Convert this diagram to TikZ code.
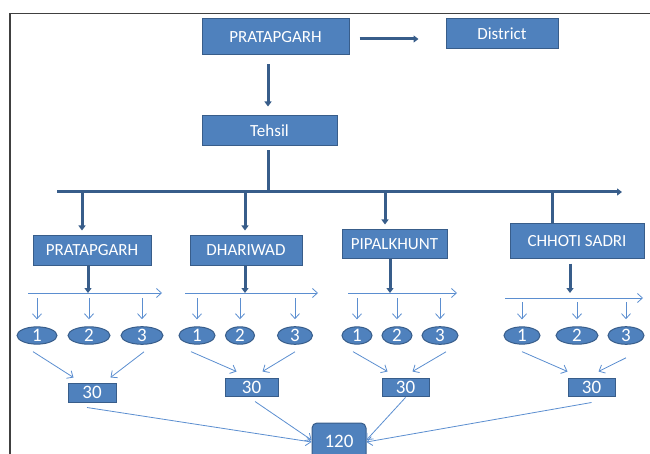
\documentclass[tikz,border=0pt]{standalone}
\usepackage{fontspec}
\setmainfont{Carlito}
\usetikzlibrary{shapes.geometric,arrows.meta}
\definecolor{boxblue}{HTML}{4F81BD}
\definecolor{boxedge}{HTML}{385D8A}
\definecolor{thinblue}{HTML}{5B8ED0}
\definecolor{framegray}{HTML}{404040}
\tikzset{
  bx/.style={rectangle, fill=boxblue, draw=boxedge, line width=1pt, text=white,
    font=\fontsize{17}{20}\selectfont, inner sep=0pt},
  numbx/.style={bx, font=\fontsize{19}{20}\selectfont},
  ov/.style={ellipse, fill=boxblue, draw=boxedge, line width=1pt, text=white,
    font=\fontsize{19}{20}\selectfont, inner sep=0pt, minimum height=16pt},
  thk/.style={draw=boxedge, line width=3pt},
  thka/.style={thk, -{Triangle[length=5pt,width=7pt]}},
  thn/.style={draw=thinblue, line width=0.8pt, -{Straight Barb[length=5pt,width=9pt]}}
}
\begin{document}
\begin{tikzpicture}[x=1pt,y=-1pt]
\useasboundingbox (0,0) rectangle (650,454);
\draw[framegray, line width=1.3pt] (10,460) -- (10,13.5) -- (655,13.5);

% top level
\node[bx, minimum width=147pt, minimum height=36pt] (top) at (275.5,37) {PRATAPGARH};
\node[bx, minimum width=112pt, minimum height=30pt] (district) at (502,34) {District};
\node[bx, minimum width=135pt, minimum height=30pt] (tehsil) at (269.5,131) {Tehsil};

\draw[thka, shorten <=10pt, shorten >=27pt] ([yshift=-2pt]top.east) -- ([yshift=-5pt]district.west);
\coordinate (c268) at (268,0);
\draw[thka, shorten <=9pt, shorten >=9pt] (top.south -| c268) -- (tehsil.north -| c268);

% bus
\coordinate (busL) at (57,192);
\coordinate (busR) at (622,192);
\draw[thk, shorten <=4pt] (tehsil.south -| c268) -- (c268 |- busL);
\draw[thka] (busL) -- (busR);

% tehsil boxes
\node[bx, minimum width=118pt, minimum height=29pt] (p1) at (92,250.5) {PRATAPGARH};
\node[bx, minimum width=112pt, minimum height=29pt] (p2) at (246,250.5) {DHARIWAD};
\node[bx, minimum width=105pt, minimum height=29pt] (p3) at (394.5,244.5) {PIPALKHUNT};
\node[bx, minimum width=134pt, minimum height=35pt] (p4) at (577,241.5) {CHHOTI SADRI};

\coordinate (d1) at (82,0);
\coordinate (d2) at (245,0);
\coordinate (d3) at (385,0);
\coordinate (d4) at (552,0);
\draw[thka, shorten >=5pt] (busL -| d1) -- (p1.north -| d1);
\draw[thka, shorten >=5pt] (busL -| d2) -- (p2.north -| d2);
\draw[thka, shorten >=5pt] (busL -| d3) -- (p3.north -| d3);
\draw[thk] (busL -| d4) -- (p4.north -| d4);

% sub lines
\coordinate (s1L) at (28,293);  \coordinate (s1R) at (162,293);
\coordinate (s2L) at (185,293); \coordinate (s2R) at (318,293);
\coordinate (s3L) at (348,293); \coordinate (s3R) at (457,293);
\coordinate (s4L) at (505,298); \coordinate (s4R) at (643,298);
\draw[thn] (s1L) -- (s1R);
\draw[thn] (s2L) -- (s2R);
\draw[thn] (s3L) -- (s3R);
\draw[thn] (s4L) -- (s4R);

\coordinate (u1) at (88,0);
\coordinate (u2) at (245,0);
\coordinate (u3) at (390,0);
\coordinate (u4) at (570,0);
\draw[thka] (p1.south -| u1) -- (s1L -| u1);
\draw[thka] (p2.south -| u2) -- (s2L -| u2);
\draw[thka] (p3.south -| u3) -- (s3L -| u3);
\draw[thka, shorten <=4pt] (p4.south -| u4) -- ([yshift=5pt]s4L -| u4);

% ellipses
\node[ov, minimum width=40pt] (e11) at (37,335.5) {1};
\node[ov, minimum width=42pt] (e12) at (89,335.5) {2};
\node[ov, minimum width=42pt] (e13) at (142,335.5) {3};
\node[ov, minimum width=36pt] (e21) at (197,335.5) {1};
\node[ov, minimum width=29pt] (e22) at (240,335.5) {2};
\node[ov, minimum width=35pt] (e23) at (295,335.5) {3};
\node[ov, minimum width=30pt] (e31) at (357,335.5) {1};
\node[ov, minimum width=30pt] (e32) at (397,335.5) {2};
\node[ov, minimum width=36pt] (e33) at (440,335.5) {3};
\node[ov, minimum width=36pt] (e41) at (522,335.5) {1};
\node[ov, minimum width=42pt] (e42) at (577,335.5) {2};
\node[ov, minimum width=36pt] (e43) at (626,335.5) {3};

\foreach \e in {e11,e12,e13}{\draw[thn, shorten <=5pt, shorten >=7pt] (\e.north |- s1L) -- (\e.north);}
\foreach \e in {e21,e22,e23}{\draw[thn, shorten <=5pt, shorten >=7pt] (\e.north |- s2L) -- (\e.north);}
\foreach \e in {e31,e32,e33}{\draw[thn, shorten <=5pt, shorten >=7pt] (\e.north |- s3L) -- (\e.north);}
\foreach \e in {e41,e42,e43}{\draw[thn, shorten <=4pt, shorten >=7pt] (\e.north |- s4L) -- (\e.north);}

% 30 boxes
\node[numbx, minimum width=48pt, minimum height=19pt] (b1) at (92,392.5) {30};
\node[numbx, minimum width=53pt, minimum height=18pt] (b2) at (251.5,387) {30};
\node[numbx, minimum width=47pt, minimum height=18pt] (b3) at (405.5,387) {30};
\node[numbx, minimum width=47pt, minimum height=18pt] (b4) at (591.5,387) {30};

\draw[thn] ([xshift=-4pt,yshift=-7pt]e11.south) -- ([xshift=6pt,yshift=5pt]b1.north west);
\draw[thn] ([xshift=2pt,yshift=-7pt]e13.south) -- ([xshift=-6pt,yshift=5pt]b1.north east);
\draw[thn] ([xshift=-6pt,yshift=-7pt]e21.south) -- ([xshift=12pt,yshift=6pt]b2.north west);
\draw[thn] ([yshift=-7pt]e23.south) -- ([xshift=-16pt,yshift=6pt]b2.north east);
\draw[thn] ([xshift=-4pt,yshift=-7pt]e31.south) -- ([xshift=6pt,yshift=6pt]b3.north west);
\draw[thn] ([xshift=6pt,yshift=-7pt]e33.south) -- ([xshift=-17pt,yshift=6pt]b3.north east);
\draw[thn] ([yshift=-7pt]e41.south) -- ([yshift=6pt]b4.north west);
\draw[thn] ([yshift=-13pt]e43.south) -- ([xshift=-17pt,yshift=6pt]b4.north east);

% 120
\node[numbx, rounded corners=5pt, minimum width=54pt, minimum height=36pt] (tot) at (339,441) {120};
\draw[thn] ([xshift=-5pt,yshift=-5pt]b1.south) -- ([yshift=-1pt]tot.west);
\draw[thn] ([xshift=3.5pt,yshift=-5pt]b2.south) -- ([yshift=1pt]tot.west);
\draw[thn] ([yshift=-1pt]b3.south) -- ([yshift=1pt]tot.east);
\draw[thn] ([yshift=-6pt]b4.south) -- ([yshift=-1pt]tot.east);
\end{tikzpicture}
\end{document}
